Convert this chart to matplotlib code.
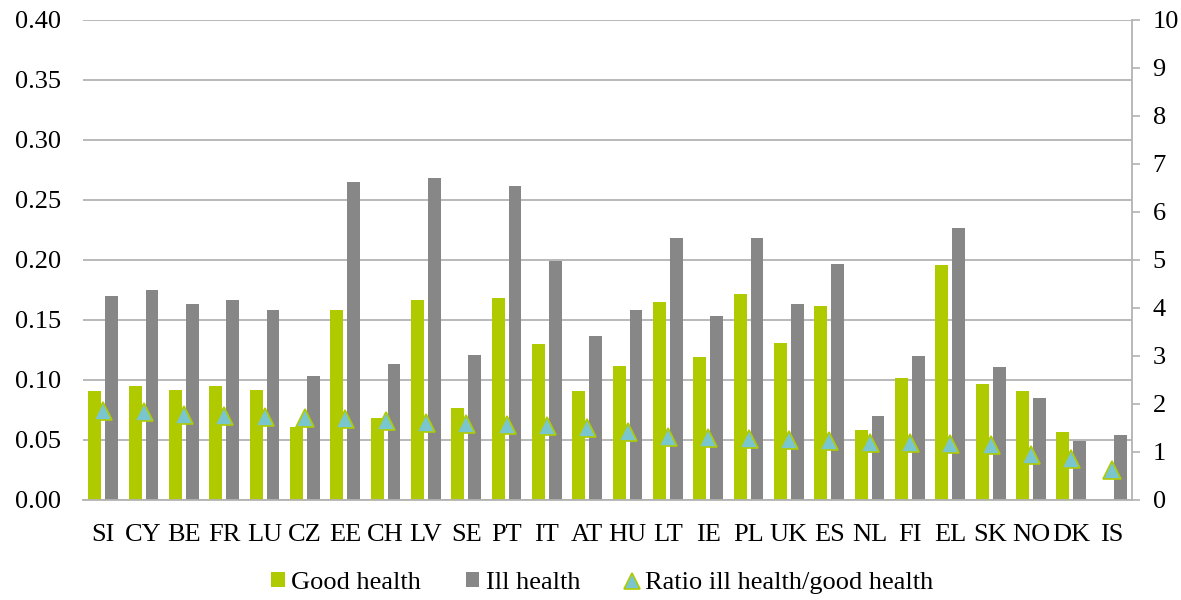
import matplotlib
matplotlib.use("Agg")
import matplotlib.pyplot as plt
import numpy as np
from matplotlib.lines import Line2D
from matplotlib.patches import Patch

countries = ["SI", "CY", "BE", "FR", "LU", "CZ", "EE", "CH", "LV", "SE", "PT", "IT", "AT",
             "HU", "LT", "IE", "PL", "UK", "ES", "NL", "FI", "EL", "SK", "NO", "DK", "IS"]
good_health = [0.091, 0.095, 0.092, 0.095, 0.092, 0.061, 0.158, 0.068, 0.167, 0.077, 0.168, 0.130, 0.091,
               0.112, 0.165, 0.119, 0.172, 0.131, 0.162, 0.058, 0.102, 0.196, 0.097, 0.091, 0.057, 0.0]
ill_health = [0.170, 0.175, 0.163, 0.167, 0.158, 0.103, 0.265, 0.113, 0.268, 0.121, 0.262, 0.199, 0.137,
              0.158, 0.218, 0.153, 0.218, 0.163, 0.197, 0.070, 0.120, 0.227, 0.111, 0.085, 0.049, 0.054]
ratio = [1.86, 1.84, 1.77, 1.75, 1.72, 1.70, 1.68, 1.65, 1.61, 1.58, 1.56, 1.54, 1.51,
         1.41, 1.32, 1.29, 1.27, 1.24, 1.22, 1.19, 1.18, 1.16, 1.15, 0.93, 0.86, 0.63]
left_ticks = [0.00, 0.05, 0.10, 0.15, 0.20, 0.25, 0.30, 0.35, 0.40]
right_ticks = [0, 1, 2, 3, 4, 5, 6, 7, 8, 9, 10]

GREEN = "#AFCB00"
GRAY = "#878787"
TRI_FACE = "#7AC6CF"
GRID = "#B3B3B3"

plt.rcParams["font.family"] = ["Liberation Serif", "DejaVu Serif"]
FS = 19

fig = plt.figure(figsize=(11.81, 6.0), dpi=100)
ax = fig.add_axes([0.0703, 0.1667, 0.888, 0.80])
x = np.arange(len(countries))
w = 0.32
off = 0.21
ax.bar(x - off, good_health, width=w, color=GREEN, zorder=2)
ax.bar(x + off, ill_health, width=w, color=GRAY, zorder=2)
ax.set_ylim(0, 0.40)
ax.set_xlim(-0.5, len(countries) - 0.5)
ax.set_yticks(left_ticks)
ax.set_yticklabels([f"{v:.2f}" for v in left_ticks], fontsize=FS)
ax.yaxis.grid(True, color=GRID, linewidth=1.3, zorder=0)
ax.set_axisbelow(True)
ax.tick_params(axis="y", length=0, pad=16)
ax.set_xticks(x)
ax.set_xticklabels(countries, fontsize=FS)
ax.tick_params(axis="x", length=0, pad=17)
for s in ["top", "left", "right"]:
    ax.spines[s].set_visible(False)
ax.spines["bottom"].set_color(GRID)
ax.spines["bottom"].set_linewidth(1.3)

ax2 = ax.twinx()
ax2.plot(x, ratio, linestyle="none", marker="^", markersize=13, markerfacecolor=TRI_FACE,
         markeredgecolor=GREEN, markeredgewidth=1.2, zorder=3)
ax2.set_ylim(0, 10)
ax2.set_yticks(right_ticks)
ax2.set_yticklabels([str(v) for v in right_ticks], fontsize=FS)
ax2.tick_params(axis="y", length=6, width=1.2, color=GRID, pad=9)
for s in ["top", "left", "bottom"]:
    ax2.spines[s].set_visible(False)
ax2.spines["right"].set_color(GRID)
ax2.spines["right"].set_linewidth(1.3)

handles = [Patch(facecolor=GREEN, edgecolor="none"),
           Patch(facecolor=GRAY, edgecolor="none"),
           Line2D([], [], linestyle="none", marker="^", markersize=12, markerfacecolor=TRI_FACE,
                  markeredgecolor=GREEN, markeredgewidth=1.2)]
labels = ["Good health", "Ill health", "Ratio ill health/good health"]
fig.legend(handles, labels, loc="center", bbox_to_anchor=(0.51, 0.028), ncol=3, frameon=False,
           fontsize=FS, handlelength=0.5, handleheight=0.5, handletextpad=0.25, columnspacing=1.7)

fig.savefig("out.png", dpi=100)
